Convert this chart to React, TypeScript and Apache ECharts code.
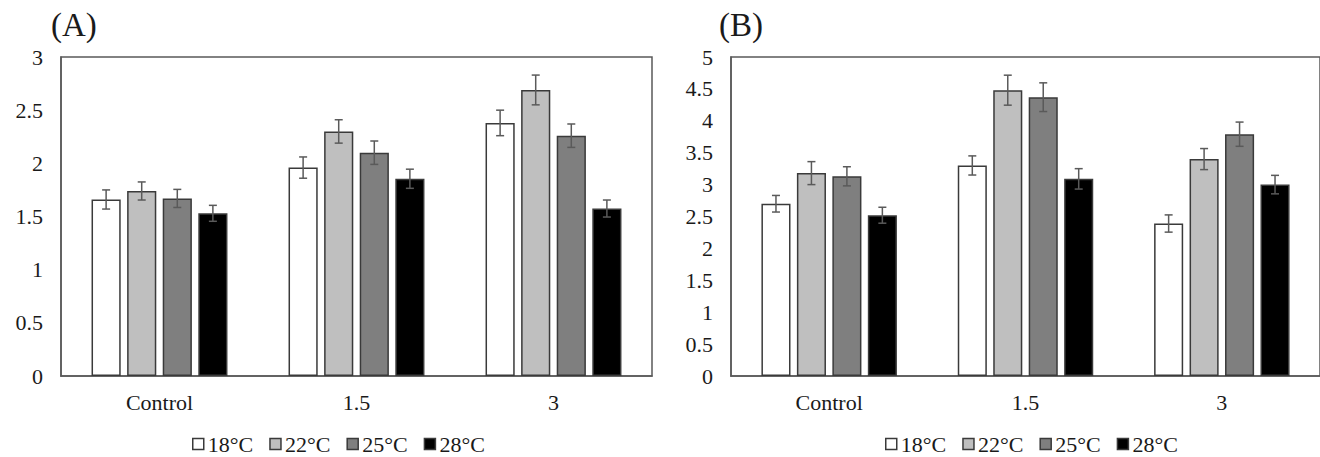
import React, { useEffect, useRef } from "react";
import * as echarts from "echarts";

const categories = ["Control", "1.5", "3"];
const temps = ["18°C", "22°C", "25°C", "28°C"];
const colors = ["#FFFFFF", "#BFBFBF", "#7F7F7F", "#000000"];

// Panel A
const a18 = [1.66, 1.96, 2.38];
const a22 = [1.74, 2.3, 2.69];
const a25 = [1.67, 2.1, 2.26];
const a28 = [1.53, 1.855, 1.575];
const a18Err = [0.09, 0.1, 0.12];
const a22Err = [0.085, 0.11, 0.14];
const a25Err = [0.085, 0.11, 0.11];
const a28Err = [0.075, 0.09, 0.08];

// Panel B
const b18 = [2.7, 3.3, 2.39];
const b22 = [3.18, 4.48, 3.4];
const b25 = [3.13, 4.37, 3.79];
const b28 = [2.52, 3.09, 3.0];
const b18Err = [0.13, 0.15, 0.135];
const b22Err = [0.18, 0.235, 0.165];
const b25Err = [0.15, 0.225, 0.19];
const b28Err = [0.125, 0.16, 0.145];

const aTicks = { min: 0, max: 3, interval: 0.5 };
const bTicks = { min: 0, max: 5, interval: 0.5 };

const CAT_GAP = 0.31;
const BAR_GAP = 0.22;
const FONT = "'Liberation Serif', 'Times New Roman', serif";
const AXIS_COLOR = "#595959";
const TEXT_COLOR = "#1a1a1a";

export default function App() {
  const ref = useRef<HTMLDivElement>(null);

  useEffect(() => {
    if (!ref.current) return;
    const chart = echarts.init(ref.current, undefined, { renderer: "svg" });

    const aVals = [a18, a22, a25, a28];
    const aErrs = [a18Err, a22Err, a25Err, a28Err];
    const bVals = [b18, b22, b25, b28];
    const bErrs = [b18Err, b22Err, b25Err, b28Err];

    const barSeries = (vals: number[][], axis: number) =>
      vals.map((v, i) => ({
        type: "bar",
        name: temps[i],
        xAxisIndex: axis,
        yAxisIndex: axis,
        data: v,
        barGap: `${BAR_GAP * 100}%`,
        barCategoryGap: `${CAT_GAP * 100}%`,
        itemStyle: {
          color: colors[i],
          borderColor: "#3a3a3a",
          borderWidth: 1.5,
        },
      }));

    const errData = (vals: number[][], errs: number[][]) => {
      const out: number[][] = [];
      vals.forEach((v, t) =>
        v.forEach((val, c) => out.push([c, val, errs[t][c], t]))
      );
      return out;
    };

    const errSeries = (vals: number[][], errs: number[][], axis: number) => ({
      type: "custom",
      xAxisIndex: axis,
      yAxisIndex: axis,
      z: 10,
      encode: { x: 0, y: 1 },
      data: errData(vals, errs),
      renderItem: (params: any, api: any) => {
        const cat = api.value(0);
        const v = api.value(1);
        const e = api.value(2);
        const t = api.value(3);
        const c = api.coord([cat, v]);
        const catW = api.size([1, 0])[0];
        const bw = (catW * (1 - CAT_GAP)) / (4 + 3 * BAR_GAP);
        const x = c[0] + (t - 1.5) * bw * (1 + BAR_GAP);
        const top = api.coord([cat, v + e])[1];
        const bot = api.coord([cat, v - e])[1];
        const cap = 4;
        const style = { stroke: "#5a5a5a", lineWidth: 1.5 };
        return {
          type: "group",
          children: [
            { type: "line", shape: { x1: x, y1: top, x2: x, y2: bot }, style },
            { type: "line", shape: { x1: x - cap, y1: top, x2: x + cap, y2: top }, style },
            { type: "line", shape: { x1: x - cap, y1: bot, x2: x + cap, y2: bot }, style },
          ],
        };
      },
    });

    const xAxis = (gridIndex: number) => ({
      type: "category",
      gridIndex,
      data: categories,
      axisLine: { show: true, lineStyle: { color: AXIS_COLOR, width: 1.5 } },
      axisTick: { show: false },
      axisLabel: { color: TEXT_COLOR, fontFamily: FONT, fontSize: 22, margin: 15 },
    });

    const yAxis = (gridIndex: number, ticks: any) => ({
      type: "value",
      gridIndex,
      min: ticks.min,
      max: ticks.max,
      interval: ticks.interval,
      axisLine: { show: true, lineStyle: { color: AXIS_COLOR, width: 1.5 } },
      axisTick: { show: false },
      splitLine: { show: false },
      axisLabel: { color: TEXT_COLOR, fontFamily: FONT, fontSize: 22, margin: 18 },
    });

    const legend = (left: number) => ({
      left,
      top: 433,
      padding: 0,
      data: temps,
      icon: "rect",
      itemWidth: 11,
      itemHeight: 11,
      itemGap: 16,
      selectedMode: false,
      itemStyle: { borderColor: "#3a3a3a", borderWidth: 1.5 },
      textStyle: { color: TEXT_COLOR, fontFamily: FONT, fontSize: 22, padding: [0, 0, 0, -1] },
    });

    chart.setOption({
      animation: false,
      backgroundColor: "#FFFFFF",
      title: [
        { text: "(A)", left: 51, top: 8, padding: 0, textStyle: { color: TEXT_COLOR, fontFamily: FONT, fontSize: 33, fontWeight: "normal" } },
        { text: "(B)", left: 719, top: 8, padding: 0, textStyle: { color: TEXT_COLOR, fontFamily: FONT, fontSize: 33, fontWeight: "normal" } },
      ],
      grid: [
        { left: 61, top: 57, width: 591, height: 319, show: true, borderColor: AXIS_COLOR, borderWidth: 1.5, backgroundColor: "transparent" },
        { left: 731, top: 57, width: 590, height: 319, show: true, borderColor: AXIS_COLOR, borderWidth: 1.5, backgroundColor: "transparent" },
      ],
      xAxis: [xAxis(0), xAxis(1)],
      yAxis: [yAxis(0, aTicks), yAxis(1, bTicks)],
      legend: [legend(192), legend(885)],
      series: [
        ...barSeries(aVals, 0),
        ...barSeries(bVals, 1),
        errSeries(aVals, aErrs, 0),
        errSeries(bVals, bErrs, 1),
      ],
    });

    return () => chart.dispose();
  }, []);

  return (
    <div
      ref={ref}
      style={{ position: "absolute", left: 0, top: 0, width: 1320, height: 457 }}
    />
  );
}
